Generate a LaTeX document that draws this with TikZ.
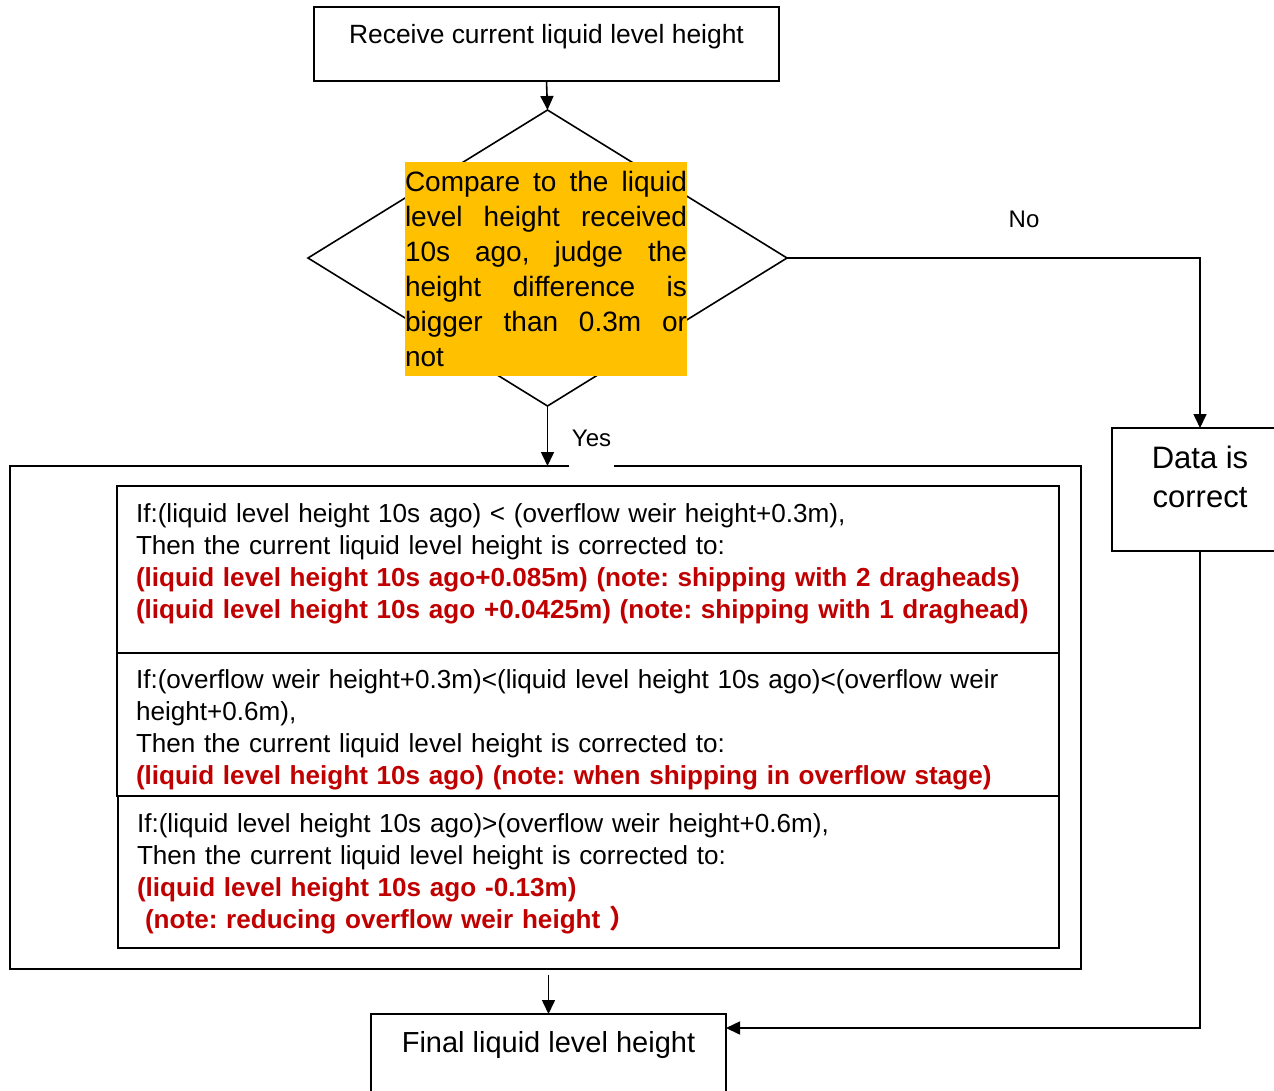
\documentclass[tikz,border=0pt]{standalone}
\usepackage{fontspec}
\setmainfont{Liberation Sans}
\newfontfamily\cjkfont{Noto Sans CJK SC}
\usepackage{xcolor}
\usetikzlibrary{arrows.meta, shapes.geometric, positioning}
\definecolor{noteRed}{HTML}{C00000}
\definecolor{judgeOrange}{HTML}{FFC000}
\newcommand{\noteText}[1]{\mbox{\bfseries\color{noteRed}#1}}
\frenchspacing
\tikzset{
flowArrow/.style={-{Triangle[length=14pt,width=13pt]}, line width=1.6pt}}

\begin{document}
\begin{tikzpicture}[x=1pt,y=-1pt]
		\tikzset{box/.style = {draw, line width=1.6pt, inner sep=0pt, outer sep=0pt}}
		\tikzset{row/.style = {box, anchor=north west, inner xsep=19pt, text width=904pt, align=left, font=\fontsize{26.1pt}{32pt}\selectfont}}
		\tikzset{note/.style = {font=\fontsize{24pt}{28pt}\selectfont}}

		\useasboundingbox (0,0) rectangle (1274,1090);

		\node[box, minimum width=465pt, text height=36pt, text depth=38pt, anchor=base, font=\fontsize{26.4pt}{32pt}\selectfont] (recv) at (546.5,43) {Receive current liquid level height};
		\node[box, shape=diamond, minimum width=479pt, minimum height=296pt] (cmp) at (547.5,258) {};
		\node[fill=judgeOrange, inner sep=0pt, minimum height=214pt, text width=282pt, align=justify, font=\fontsize{28pt}{35pt}\selectfont] (cmptxt) at (546,269) {Compare to the liquid\linebreak level height received\linebreak 10s ago, judge the\linebreak height difference is\linebreak bigger than 0.3m or\linebreak not};
		\node[note] (no) at (1024,219) {No};
		\node[box, minimum width=176pt, minimum height=123pt, align=center, font=\fontsize{31pt}{39pt}\selectfont] (data) at (1200,489.5) {Data is\\correct\rule[-26pt]{0pt}{26pt}};

		% correction rules
		\node[box, minimum width=1071pt, minimum height=503pt] (corr) at (545.5,717.5) {};
		\node[row, minimum height=167pt] (rowa) at (117,486) {If:(liquid level height 10s ago) < (overflow weir height+0.3m),\\
			Then the current liquid level height is corrected to:\\
			\noteText{(liquid level height 10s ago+0.085m) (note: shipping with 2 dragheads)}\\
			\noteText{(liquid level height 10s ago +0.0425m) (note: shipping with 1 draghead)}\rule[-17pt]{0pt}{17pt}};
		\node[row, minimum height=143pt] (rowb) at (rowa.south west) {\rule{0pt}{29pt}If:(overflow weir height+0.3m)<(liquid level height 10s ago)<(overflow weir\\
			height+0.6m),\\
			Then the current liquid level height is corrected to:\\
			\noteText{(liquid level height 10s ago) (note: when shipping in overflow stage)}};
		\node[row, minimum height=152pt, text width=903pt] (rowc) at (118,796) {\rule{0pt}{22pt}If:(liquid level height 10s ago)>(overflow weir height+0.6m),\\
			Then the current liquid level height is corrected to:\\
			\noteText{(liquid level height 10s ago -0.13m)}\\
			\hspace*{8pt}\noteText{(note: reducing overflow weir height {\cjkfont ）}}};
		\node[note, fill=white, inner sep=0pt, minimum width=45pt, text height=20pt, text depth=26pt, anchor=base] (yes) at (591.5,446) {Yes};

		\node[box, minimum width=355pt, text height=38pt, text depth=60pt, anchor=north, font=\fontsize{29pt}{35pt}\selectfont] (final) at (548.5,1014) {Final liquid level height};

		\draw[flowArrow] (recv.south) -- (cmp.north);
		\draw[flowArrow] (cmp.south) -- (cmp.south |- corr.north);
		\draw[flowArrow] (cmp.east) -| (data.north);
		\draw[flowArrow, shorten <=6pt] (final.north |- corr.south) -- (final.north);
		\draw[flowArrow] (data.south) |- ([yshift=-14pt]final.north east);

	\end{tikzpicture}
\end{document}
